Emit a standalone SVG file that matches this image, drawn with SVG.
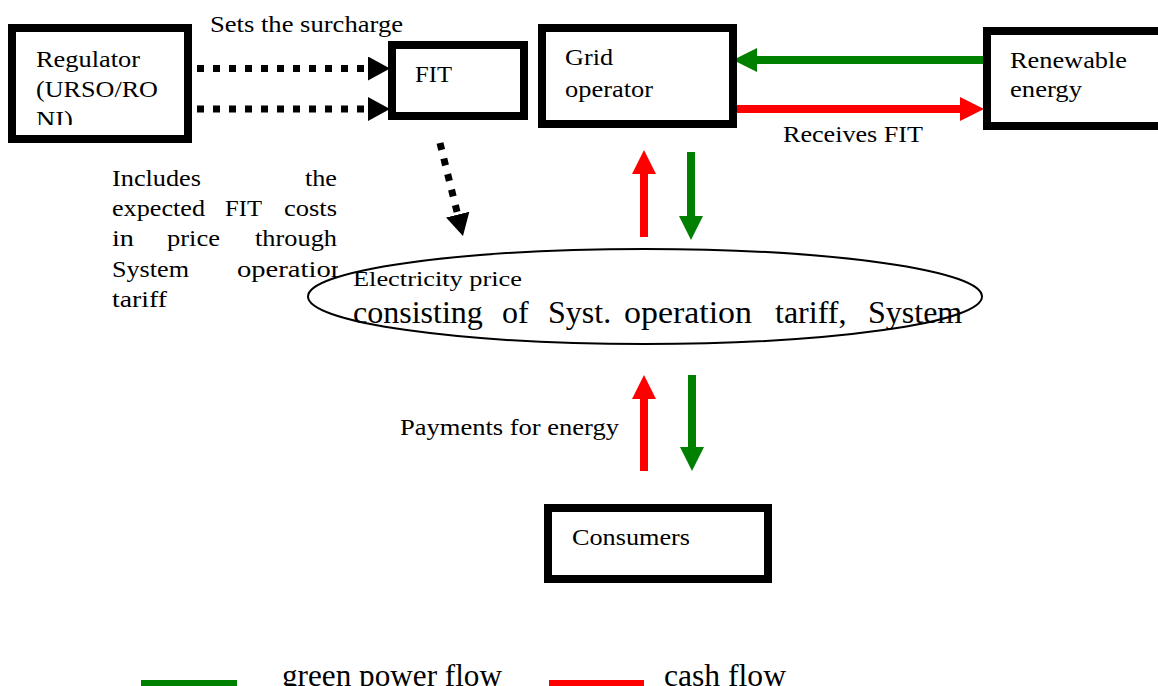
<svg xmlns="http://www.w3.org/2000/svg" width="1158" height="686" viewBox="0 0 1158 686">
<style>
.box{fill:#fff;stroke:#000;stroke-width:8}
.t{font-family:"Liberation Serif","Times New Roman",serif;font-size:24px;fill:#000}
.big{font-family:"Liberation Serif","Times New Roman",serif;font-size:32px;fill:#000}
.leg{font-family:"Liberation Serif","Times New Roman",serif;font-size:31px;fill:#000}
.dot{stroke:#000;stroke-width:7;stroke-dasharray:7 9;fill:none}
.g{stroke:#008000;stroke-width:8;fill:none}
.r{stroke:#ff0000;stroke-width:8;fill:none}
</style>
<defs>
<marker id="hk" markerUnits="userSpaceOnUse" markerWidth="22" markerHeight="24" refX="0" refY="12" orient="auto" viewBox="0 0 22 24"><path d="M0,0 L22,12 L0,24 z" fill="#000"/></marker>
<marker id="hg" markerUnits="userSpaceOnUse" markerWidth="24" markerHeight="24" refX="0" refY="12" orient="auto" viewBox="0 0 24 24"><path d="M0,0 L24,12 L0,24 z" fill="#008000"/></marker>
<marker id="hr" markerUnits="userSpaceOnUse" markerWidth="24" markerHeight="24" refX="0" refY="12" orient="auto" viewBox="0 0 24 24"><path d="M0,0 L24,12 L0,24 z" fill="#ff0000"/></marker>
<clipPath id="cReg"><rect x="17" y="33" width="167" height="92"/></clipPath>
<clipPath id="cInc"><rect x="100" y="160" width="238" height="160"/></clipPath>
</defs>

<g id="label-surcharge"><text class="t" x="210" y="32" textLength="193" lengthAdjust="spacingAndGlyphs">Sets the surcharge</text></g>

<g id="note-includes" clip-path="url(#cInc)">
<text class="t" x="112" y="186" textLength="89" lengthAdjust="spacingAndGlyphs">Includes</text>
<text class="t" x="305" y="186" textLength="32" lengthAdjust="spacingAndGlyphs">the</text>
<text class="t" x="112" y="216" textLength="93" lengthAdjust="spacingAndGlyphs">expected</text>
<text class="t" x="225" y="216" textLength="37" lengthAdjust="spacingAndGlyphs">FIT</text>
<text class="t" x="284" y="216" textLength="53" lengthAdjust="spacingAndGlyphs">costs</text>
<text class="t" x="112" y="246" textLength="22" lengthAdjust="spacingAndGlyphs">in</text>
<text class="t" x="167" y="246" textLength="53" lengthAdjust="spacingAndGlyphs">price</text>
<text class="t" x="255" y="246" textLength="82" lengthAdjust="spacingAndGlyphs">through</text>
<text class="t" x="112" y="277" textLength="77" lengthAdjust="spacingAndGlyphs">System</text>
<text class="t" x="237" y="277" textLength="108" lengthAdjust="spacingAndGlyphs">operation</text>
<text class="t" x="112" y="307" textLength="55" lengthAdjust="spacingAndGlyphs">tariff</text>
</g>

<g id="connectors">
<line class="dot" x1="197" y1="68.5" x2="368" y2="68.5" marker-end="url(#hk)"/>
<line class="dot" x1="197" y1="109" x2="368" y2="109" marker-end="url(#hk)"/>
<line class="dot" x1="440" y1="143" x2="457.7" y2="214.6" marker-end="url(#hk)"/>
<line class="g" x1="987" y1="60" x2="757" y2="60" marker-end="url(#hg)"/>
<line class="r" x1="737" y1="109" x2="960" y2="109" marker-end="url(#hr)"/>
<line class="r" x1="644" y1="237" x2="644" y2="174" marker-end="url(#hr)"/>
<line class="g" x1="691" y1="152" x2="691" y2="216" marker-end="url(#hg)"/>
<line class="r" x1="644" y1="471" x2="644" y2="399" marker-end="url(#hr)"/>
<line class="g" x1="692" y1="375" x2="692" y2="447" marker-end="url(#hg)"/>
</g>

<g id="regulator">
<rect class="box" x="12" y="28" width="176" height="111"/>
<g clip-path="url(#cReg)">
<text class="t" x="36" y="67" textLength="104" lengthAdjust="spacingAndGlyphs">Regulator</text>
<text class="t" x="36" y="97" textLength="122" lengthAdjust="spacingAndGlyphs">(URSO/RO</text>
<text class="t" x="36" y="127" textLength="37" lengthAdjust="spacingAndGlyphs">NI)</text>
</g>
</g>

<g id="fit">
<rect class="box" x="392" y="45" width="132" height="71"/>
<text class="t" x="415" y="82" textLength="37" lengthAdjust="spacingAndGlyphs">FIT</text>
</g>

<g id="grid-operator">
<rect class="box" x="542" y="28" width="191" height="96"/>
<text class="t" x="565" y="65" textLength="48" lengthAdjust="spacingAndGlyphs">Grid</text>
<text class="t" x="565" y="97" textLength="88" lengthAdjust="spacingAndGlyphs">operator</text>
</g>

<g id="renewable">
<rect class="box" x="987" y="31" width="200" height="95"/>
<text class="t" x="1010" y="68" textLength="117" lengthAdjust="spacingAndGlyphs">Renewable</text>
<text class="t" x="1010" y="97" textLength="72" lengthAdjust="spacingAndGlyphs">energy</text>
</g>

<g id="label-receives"><text class="t" x="783" y="142" textLength="140" lengthAdjust="spacingAndGlyphs">Receives FIT</text></g>

<g id="electricity-price">
<ellipse cx="645" cy="296.5" rx="337" ry="47.5" fill="#fff" stroke="#000" stroke-width="2"/>
<text class="t" x="353" y="286" style="font-size:20px" textLength="169" lengthAdjust="spacingAndGlyphs">Electricity price</text>
<text class="big" x="353" y="323">consisting</text>
<text class="big" x="502" y="323">of</text>
<text class="big" x="548" y="323">Syst.</text>
<text class="big" x="624" y="323" textLength="128" lengthAdjust="spacingAndGlyphs">operation</text>
<text class="big" x="775" y="323">tariff,</text>
<text class="big" x="868" y="323">System</text>
</g>

<g id="label-payments"><text class="t" x="400" y="435" textLength="219" lengthAdjust="spacingAndGlyphs">Payments for energy</text></g>

<g id="consumers">
<rect class="box" x="548" y="508" width="220" height="71"/>
<text class="t" x="572" y="545" textLength="118" lengthAdjust="spacingAndGlyphs">Consumers</text>
</g>

<g id="legend">
<rect x="141" y="680" width="96" height="12" fill="#008000"/>
<text class="leg" x="282" y="686" textLength="220" lengthAdjust="spacingAndGlyphs">green power flow</text>
<rect x="549" y="680" width="95" height="12" fill="#ff0000"/>
<text class="leg" x="664" y="686" textLength="122" lengthAdjust="spacingAndGlyphs">cash flow</text>
</g>
</svg>
